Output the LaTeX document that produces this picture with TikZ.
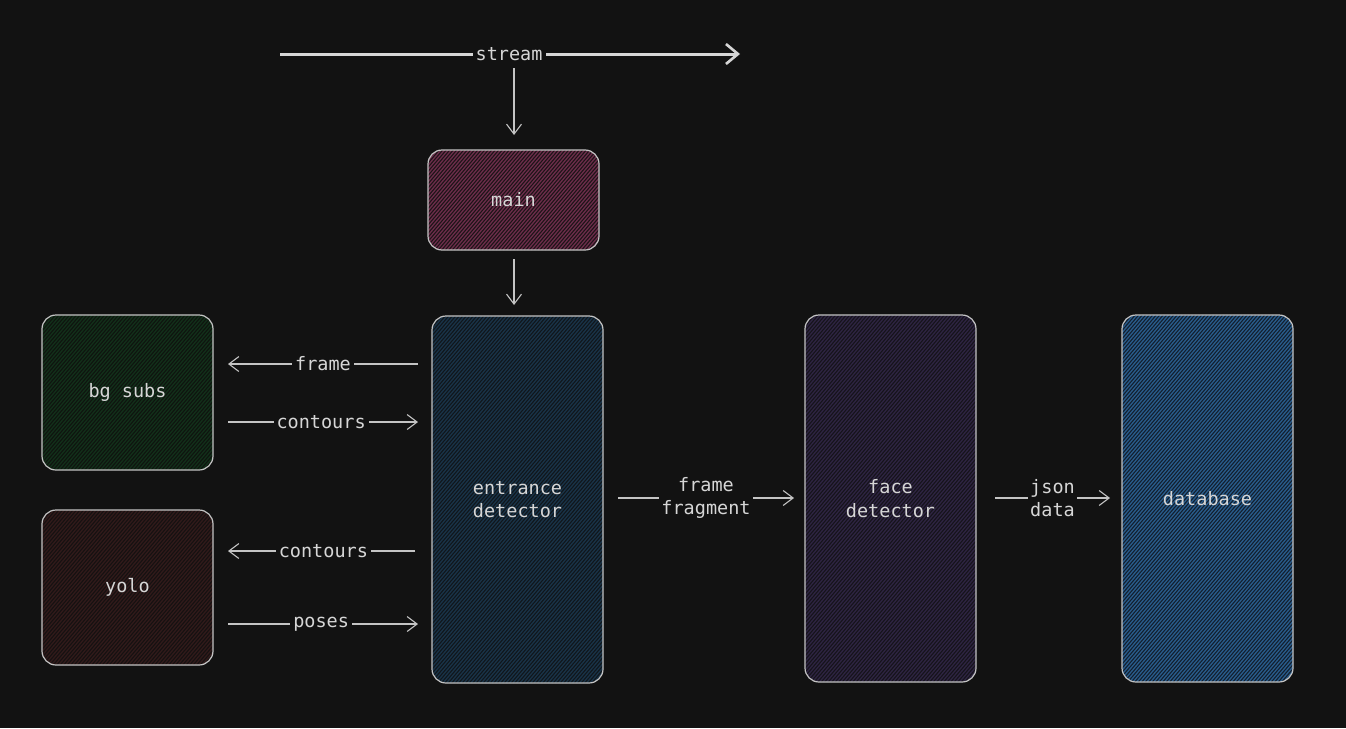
\documentclass[tikz,border=0pt]{standalone}
\usepackage{fontspec}
\setmonofont{DejaVu Sans Mono}
\usetikzlibrary{arrows.meta}
\definecolor{bg}{HTML}{121212}
\definecolor{stroke}{HTML}{C4C4C4}
\definecolor{txt}{HTML}{D6D6D6}
\definecolor{mainA}{HTML}{1C1317}\definecolor{mainB}{HTML}{6C2D4A}
\definecolor{bgsA}{HTML}{0F140F}\definecolor{bgsB}{HTML}{12301A}
\definecolor{yoloA}{HTML}{151111}\definecolor{yoloB}{HTML}{311A1A}
\definecolor{entA}{HTML}{10161B}\definecolor{entB}{HTML}{193348}
\definecolor{faceA}{HTML}{15131A}\definecolor{faceB}{HTML}{2E2442}
\definecolor{dbA}{HTML}{121E2C}\definecolor{dbB}{HTML}{295C8C}
\tikzset{
  box/.style={draw=stroke, line width=1.2pt, rounded corners=14pt, inner sep=0pt,
    text=txt, font=\ttfamily\fontsize{18.5}{23.5}\selectfont, align=center},
  conn/.style={draw=stroke, line width=1.1pt, -{Straight Barb[length=10pt,width=15pt,line width=1.1pt]}},
  lbl/.style={fill=bg, text=txt, font=\ttfamily\fontsize{18.5}{23.5}\selectfont, align=center, inner sep=3pt},
}
\newcommand{\mkbox}[8]{% #1 name, #2 L, #3 T, #4 W, #5 H, #6 base, #7 line, #8 text
  \fill[#6, rounded corners=14pt] (#2,#3) rectangle ++(#4,#5);
  \begin{scope}
    \clip[rounded corners=14pt] (#2,#3) rectangle ++(#4,#5);
    \pgfmathsetmacro{\hh}{#5}
    \pgfmathsetmacro{\ww}{#4}
    \pgfmathsetmacro{\st}{-\hh}
    \pgfmathsetmacro{\sn}{-\hh+3.5}
    \foreach \t in {\st,\sn,...,\ww} {
      \draw[#7, line width=1.3pt] ({#2+\t},{#3+#5}) -- ++(\hh*0.85,-\hh);
    }
  \end{scope}
  \node[box, minimum width=#4 pt, minimum height=#5 pt] (#1) at ({#2+#4/2},{#3+#5/2}) {#8};
}
\begin{document}
\begin{tikzpicture}[x=1pt,y=-1pt]
\fill[bg] (0,0) rectangle (1346,728);
\useasboundingbox (0,0) rectangle (1346,728);

\mkbox{main}{428}{150}{171}{100}{mainA}{mainB}{main}
\mkbox{bgsubs}{42}{315}{171}{155}{bgsA}{bgsB}{bg subs}
\mkbox{yolo}{42}{510}{171}{155}{yoloA}{yoloB}{yolo}
\mkbox{entrance}{432}{316}{171}{367}{entA}{entB}{entrance\\detector}
\mkbox{face}{805}{315}{171}{367}{faceA}{faceB}{face\\detector}
\mkbox{db}{1122}{315}{171}{367}{dbA}{dbB}{database}

% stream
\coordinate (sL) at (280,54);
\coordinate (sR) at (740,54);
\draw[draw=txt, line width=3pt, -{Straight Barb[length=12pt,width=20pt,line width=2.6pt]}] (sL) -- (sR)
  node[lbl, pos=0.498] (stream) {stream};
\coordinate (sTop) at (514,68);
\coordinate (sDown) at (514,135);
\draw[conn] (sTop) -- (sDown);

\coordinate (mTop) at (514,259);
\coordinate (eTop) at (514,305);
\draw[conn] (mTop) -- (eTop);

% left connections
\coordinate (f1a) at (418,364); \coordinate (f1b) at (228,364);
\draw[conn] (f1a) -- (f1b) node[lbl, pos=0.5] {frame};
\coordinate (c1a) at (228,422); \coordinate (c1b) at (418,422);
\draw[conn] (c1a) -- (c1b) node[lbl, pos=0.49] {contours};
\coordinate (c2a) at (415,551); \coordinate (c2b) at (228,551);
\draw[conn] (c2a) -- (c2b) node[lbl, pos=0.49] {contours};
\coordinate (p1a) at (228,624); \coordinate (p1b) at (418,624);
\draw[conn] (p1a) -- (p1b) node[lbl, pos=0.49] {poses};

% right connections
\coordinate (ffa) at (618,498); \coordinate (ffb) at (794,498);
\draw[conn] (ffa) -- (ffb) node[lbl, pos=0.5, inner sep=2pt] {frame\\fragment};
\coordinate (jda) at (995,498); \coordinate (jdb) at (1110,498);
\draw[conn] (jda) -- (jdb) node[lbl, pos=0.5, inner sep=2pt] {json\\data};
\end{tikzpicture}
\end{document}
